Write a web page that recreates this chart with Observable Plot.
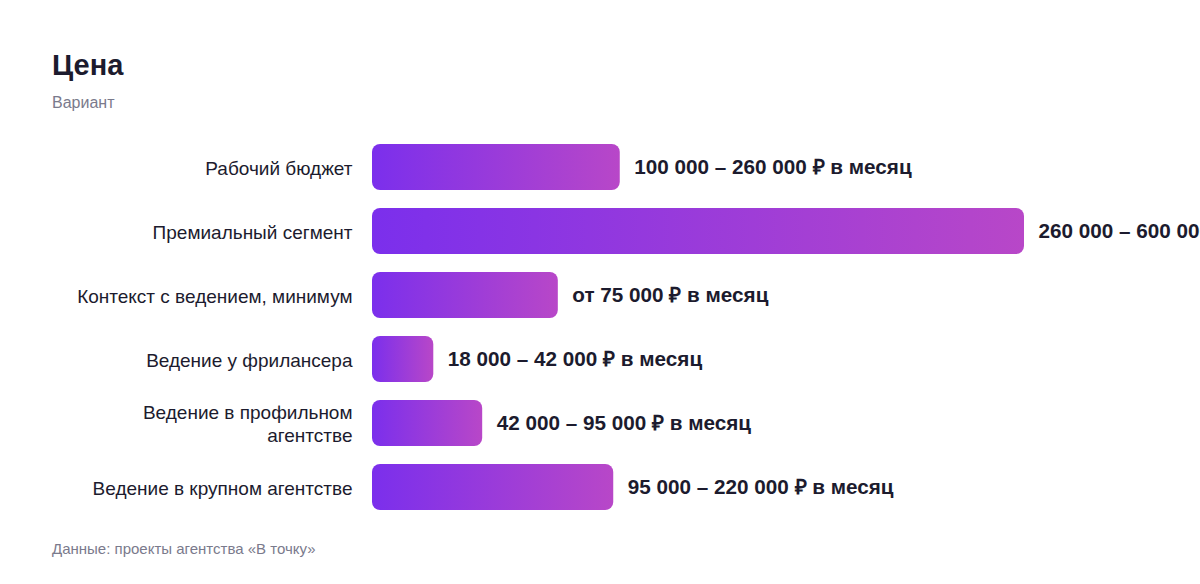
<!DOCTYPE html>
<html><head><meta charset="utf-8">
<script src="https://cdn.jsdelivr.net/npm/d3@7"></script>
<script src="https://cdn.jsdelivr.net/npm/@observablehq/plot@0.6"></script>
<style>
body{margin:0;background:#fff;font-family:"Liberation Sans",Arial,sans-serif;overflow:hidden;}
#wrap{position:relative;padding-left:52px;}
h1{margin:0;padding-top:48px;font-size:29px;line-height:34px;font-weight:700;color:#1c1b2e;}
.sub{margin-top:12px;font-size:16px;line-height:18px;color:#7a7a8c;}
#chart{margin-top:12px;}
.cap{margin-top:11px;font-size:15px;line-height:18px;color:#7a7a8c;}
</style></head>
<body><div id="wrap">
<h1>Цена</h1>
<div class="sub">Вариант</div>
<div id="chart"></div>
<div class="cap">Данные: проекты агентства «В точку»</div>
</div>
<script>
const categories = ["Рабочий бюджет","Премиальный сегмент","Контекст с ведением, минимум","Ведение у фрилансера","Ведение в профильном\nагентстве","Ведение в крупном агентстве"];
const scores = [38, 100, 28.5, 9.4, 16.9, 37];
const valueLabels = ["100 000 – 260 000 ₽ в месяц","260 000 – 600 000 ₽ в месяц","от 75 000 ₽ в месяц","18 000 – 42 000 ₽ в месяц","42 000 – 95 000 ₽ в месяц","95 000 – 220 000 ₽ в месяц"];

const data = categories.map((c,i)=>({category:c, score:scores[i], label:valueLabels[i]}));

const plot = Plot.plot({
  width: 1148, height: 405,
  marginLeft: 320, marginRight: 176, marginTop: 0, marginBottom: 0,
  style: {overflow: "visible", fontFamily: '"Liberation Sans", Arial, sans-serif', background: "transparent"},
  x: {domain: [0, 100], axis: null},
  y: {domain: categories, padding: 0.286, label: null},
  marks: [
    Plot.axisY({tickSize: 0, tickPadding: 20, fontSize: 19, fill: "#1c1b2e", lineHeight: 1.2, label: null}),
    Plot.barX(data, {x: "score", y: "category", fill: "url(#barGrad)", rx: 8}),
    Plot.text(data, {x: "score", y: "category", text: "label", textAnchor: "start", dx: 14, fontSize: 20.7, fontWeight: 700, fill: "#1c1b2e"})
  ]
});
plot.insertAdjacentHTML("afterbegin", `<defs><linearGradient id="barGrad" x1="0" y1="0" x2="1" y2="0"><stop offset="0" stop-color="#7b2fec"/><stop offset="1" stop-color="#b847c8"/></linearGradient></defs>`);
document.getElementById("chart").appendChild(plot);
</script>
</body></html>
